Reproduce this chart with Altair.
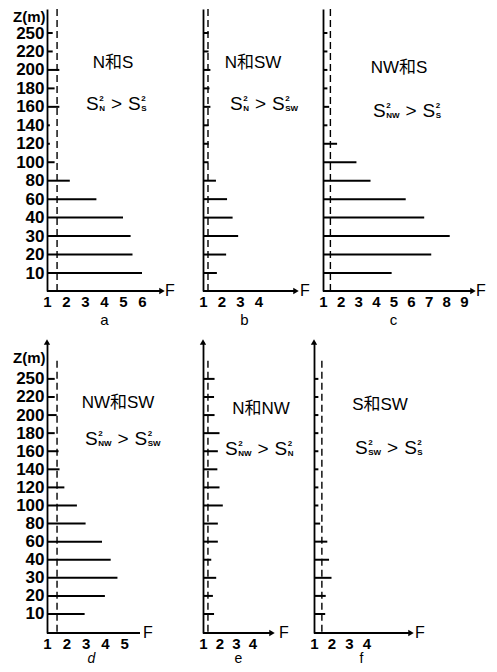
import altair as alt
import pandas as pd

# ---------------- data ----------------
heights = ["10", "20", "30", "40", "60", "80", "100", "120", "140", "160", "180", "200", "220", "250"]
F_a = [6.0, 5.5, 5.4, 5.0, 3.6, 2.2, 1.4, 1.15, 1.15, 1.65, 1.4, 1.65, 1.3, 1.3]
F_b = [1.75, 2.25, 2.9, 2.6, 2.3, 1.7, 1.3, 1.3, 1.3, 1.4, 1.35, 1.4, 1.3, 1.3]
F_c = [4.9, 7.15, 8.2, 6.75, 5.7, 3.7, 2.9, 1.8, 1.25, 1.35, 1.25, 1.25, 1.25, 1.25]
F_d = [2.95, 4.0, 4.65, 4.3, 3.85, 3.0, 2.55, 1.9, 1.65, 1.6, 1.4, 1.5, 1.4, 1.4]
F_e = [1.67, 1.6, 1.8, 1.5, 1.9, 1.9, 2.2, 2.0, 1.87, 1.9, 2.0, 1.7, 1.67, 1.7]
F_f = [1.64, 1.67, 2.0, 1.86, 1.76, 1.35, 1.25, 1.25, 1.25, 1.25, 1.25, 1.25, 1.25, 1.25]
crit_F = [1.53, 1.27, 1.42, 1.52, 1.30, 1.45]
x_ticks = [[1, 2, 3, 4, 5, 6], [1, 2, 3, 4], [1, 2, 3, 4, 5, 6, 7, 8, 9],
           [1, 2, 3, 4, 5], [1, 2, 3, 4], [1, 2, 3, 4]]
panel_letters = ["a", "b", "c", "d", "e", "f"]
pair_names = ["N和S", "N和SW", "NW和S", "NW和SW", "N和NW", "S和SW"]
formula_subs = [("N", "S"), ("N", "SW"), ("NW", "S"), ("NW", "SW"), ("NW", "N"), ("SW", "S")]
all_F = [F_a, F_b, F_c, F_d, F_e, F_f]

FONT = "Liberation Sans, Noto Sans CJK SC, sans-serif"

# ---------------- layout ----------------
rows = {
    "top": dict(H=282, y0=0.025, y1=15.30, dash_top=None, yarrow=False),
    "bottom": dict(H=291, y0=-0.051, y1=16.04, dash_top=15.0, yarrow=True),
}
geom = [
    dict(row="top", w=143, unit=19.0, arrow_px=115, ftext_px=118, head=True,
         letter=(57, 28), lfs=15, name=(66, 54), form=(39, 95), ylabels=True, italic=False),
    dict(row="top", w=104, unit=18.5, arrow_px=93, ftext_px=97, head=True,
         letter=(41, 28), lfs=15, name=(50, 54), form=(27, 95), ylabels=False, italic=False),
    dict(row="top", w=163, unit=17.6, arrow_px=150, ftext_px=153, head=True,
         letter=(70, 28), lfs=15, name=(76, 59), form=(50, 102), ylabels=False, italic=False),
    dict(row="bottom", w=143, unit=19.3, arrow_px=93, ftext_px=96, head=False,
         letter=(44, 25), lfs=14, name=(71, 61), form=(38, 97), ylabels=True, italic=True),
    dict(row="bottom", w=98, unit=16.5, arrow_px=69, ftext_px=76, head=True,
         letter=(35, 25), lfs=14, name=(58, 67), form=(22, 107), ylabels=False, italic=False),
    dict(row="bottom", w=115, unit=17.5, arrow_px=97, ftext_px=101, head=True,
         letter=(47, 25), lfs=14, name=(66, 63), form=(41, 106), ylabels=False, italic=False),
]

one = pd.DataFrame({"k": [0]})
label_js = "[" + ",".join("'" + h + "'" for h in [""] + heights) + "]"


def txt(t, x, y, fs, align="left", weight="normal"):
    return alt.Chart(one).mark_text(text=t, fontSize=fs, align=align, baseline="middle",
                                    fontWeight=weight, color="black").encode(
        x=alt.value(x), y=alt.value(y))


def formula(x0, y0, subA, subB, big=19, small=8):
    widths = {"N": 0.722, "S": 0.667, "W": 0.944}
    layers = []
    x = x0
    for k, sub in enumerate([subA, subB]):
        layers.append(txt("S", x, y0, big))
        x += 0.667 * big + 0.5
        layers.append(txt("2", x, y0 - 5, small, weight="bold"))
        layers.append(txt(sub, x, y0 + 5, small, weight="bold"))
        x += max(sum(widths[c] for c in sub) * small, 0.556 * small) + 6
        if k == 0:
            layers.append(txt(">", x, y0, big))
            x += 0.584 * big + 6
    return layers


def panel(i):
    g = geom[i]
    r = rows[g["row"]]
    F = all_F[i]
    df = pd.DataFrame({"idx": list(range(1, len(heights) + 1)), "F": F, "base": [1.0] * len(F)})
    xmax = 1 + g["w"] / g["unit"]
    arrowF = 1 + g["arrow_px"] / g["unit"]
    ftextF = 1 + g["ftext_px"] / g["unit"]
    xs = alt.Scale(domain=[1, xmax], nice=False, zero=False)
    ys = alt.Scale(domain=[r["y0"], r["y1"]], nice=False, zero=False)

    x_axis = alt.Axis(values=x_ticks[i], tickCount=40, format="d", domain=False, ticks=False,
                      grid=False, labelFontSize=15, labelPadding=3, labelFlush=False,
                      labelOverlap=False, labelColor="black", labelFontWeight="bold",
                      title=panel_letters[i], titleX=g["letter"][0], titleY=g["letter"][1],
                      titleAngle=0, titleAlign="center", titleBaseline="middle",
                      titleFontSize=g["lfs"], titleFontWeight="normal",
                      titleFontStyle="italic" if g["italic"] else "normal")
    if g["ylabels"]:
        tY, tB = (0, "top") if g["row"] == "top" else (15, "middle")
        y_axis = alt.Axis(values=list(range(1, 15)), tickCount=40,
                          labelExpr=label_js + "[datum.value]",
                          domain=True, domainColor="black", domainWidth=1.8, ticks=False,
                          grid=False, labelFontSize=17, labelPadding=3, labelOverlap=False,
                          labelFontWeight="bold", labelColor="black",
                          title="Z(m)", titleAngle=0, titleX=-2, titleY=tY,
                          titleAlign="right", titleBaseline=tB, titleFontSize=15,
                          titleFontWeight="bold")
    else:
        y_axis = alt.Axis(values=list(range(1, 15)), tickCount=40, labels=False, domain=True,
                          domainColor="black", domainWidth=1.8, ticks=False, grid=False,
                          title=None)

    bars = alt.Chart(df).mark_rule(color="black", strokeWidth=2).encode(
        x=alt.X("F:Q", scale=xs, axis=x_axis),
        x2="base:Q",
        y=alt.Y("idx:Q", scale=ys, axis=y_axis),
    )
    cdf = pd.DataFrame({"c": [crit_F[i]]})
    if r["dash_top"] is None:
        dash = alt.Chart(cdf).mark_rule(color="black", strokeWidth=1.4, strokeDash=[7, 4]).encode(
            x="c:Q")
    else:
        dash = alt.Chart(cdf).mark_rule(color="black", strokeWidth=1.4, strokeDash=[7, 4]).encode(
            x="c:Q", y=alt.datum(r["dash_top"]), y2=alt.datum(r["y0"]))
    xline = alt.Chart(one).mark_rule(color="black", strokeWidth=1.8).encode(
        x=alt.datum(1), x2=alt.datum(arrowF), y=alt.datum(r["y0"]))
    layers = [bars, dash, xline]
    if g["head"]:
        layers.append(alt.Chart(one).mark_point(shape="triangle-right", filled=True, size=40,
                                                color="black", opacity=1).encode(
            x=alt.datum(arrowF), y=alt.datum(r["y0"])))
    if r["yarrow"]:
        layers.append(alt.Chart(one).mark_point(shape="triangle-up", filled=True, size=40,
                                                color="black", opacity=1).encode(
            x=alt.datum(1), y=alt.datum(r["y1"])))
    layers.append(alt.Chart(one).mark_text(text="F", fontSize=16, align="left",
                                           baseline="middle", color="black").encode(
        x=alt.datum(ftextF), y=alt.datum(r["y0"])))
    layers.append(txt(pair_names[i], g["name"][0], g["name"][1], 17, align="center"))
    layers += formula(g["form"][0], g["form"][1], *formula_subs[i])
    return alt.layer(*layers).properties(width=g["w"], height=r["H"])


top = alt.hconcat(panel(0), panel(1), panel(2), spacing=8)
bottom = alt.hconcat(panel(3), panel(4), panel(5), spacing=8)
chart = alt.vconcat(top, bottom, spacing=12).properties(
    padding={"left": 4, "top": 0, "right": 0, "bottom": 0}
).configure_view(stroke=None).configure_axis(
    labelFont=FONT, titleFont=FONT, labelColor="black", titleColor="black",
    labelOverlap=False
).configure_text(font=FONT)

chart.save("out.html", embed_options={"renderer": "svg", "actions": False})
